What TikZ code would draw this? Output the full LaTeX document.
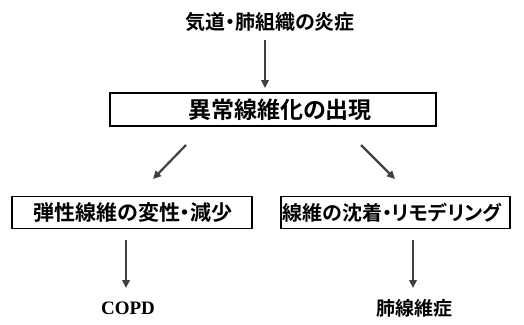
\documentclass[tikz,border=0pt]{standalone}
\usepackage{fontspec}
\setmainfont{Liberation Serif}
\newfontfamily\jp[RawFeature=+palt]{Noto Sans CJK JP Bold}
\usetikzlibrary{arrows.meta}
\definecolor{arr}{HTML}{404040}
\tikzset{
  jptext/.style={font=\jp\fontsize{18}{20}\selectfont, inner sep=0pt},
  boxed/.style={draw=black, line width=1.3pt, inner sep=0pt, anchor=center},
  flow/.style={draw=arr, line width=2.2pt, -{Triangle[length=8pt,width=7.5pt]}}
}
\begin{document}
\begin{tikzpicture}[x=1pt,y=-1pt]
\useasboundingbox (0,0) rectangle (524,324);
\node[jptext, font=\jp\fontsize{20}{22}\selectfont] (t0) at (270,22) {気道・肺組織の炎症};
\node[boxed, minimum width=326pt, minimum height=33pt] (b1) at (273,109.5) {};
\node[jptext, font=\jp\fontsize{23}{25}\selectfont] (b1t) at (280,110) {異常線維化の出現};
\node[boxed, minimum width=240pt, minimum height=32pt] (b2) at (132,212.5) {};
\node[jptext, font=\jp\fontsize{21}{23}\selectfont] (b2t) at (133,212.5) {弾性線維の変性・減少};
\node[boxed, minimum width=229pt, minimum height=32pt] (b3) at (395.5,212.5) {};
\node[jptext, font=\jp\fontsize{20}{22}\selectfont] (b3t) at (392,212.5) {線維の沈着・リモデリング};
\node[font=\bfseries\fontsize{19}{21}\selectfont, inner sep=0pt] (c1) at (128,308) {COPD};
\node[jptext, font=\jp\fontsize{19}{21}\selectfont] (c2) at (414,308) {肺線維症};
\coordinate (a0s) at (265,40);
\coordinate (a0e) at (265,88);
\coordinate (d1s) at (186,145);
\coordinate (d1e) at (153,179);
\coordinate (d2s) at (361,145);
\coordinate (d2e) at (395,179);
\coordinate (v1s) at (126,240);
\coordinate (v1e) at (126,288);
\coordinate (v2s) at (413,240);
\coordinate (v2e) at (413,288);
\draw[flow] (a0s) -- (a0e);
\draw[flow] (d1s) -- (d1e);
\draw[flow] (d2s) -- (d2e);
\draw[flow] (v1s) -- (v1e);
\draw[flow] (v2s) -- (v2e);
\end{tikzpicture}
\end{document}
